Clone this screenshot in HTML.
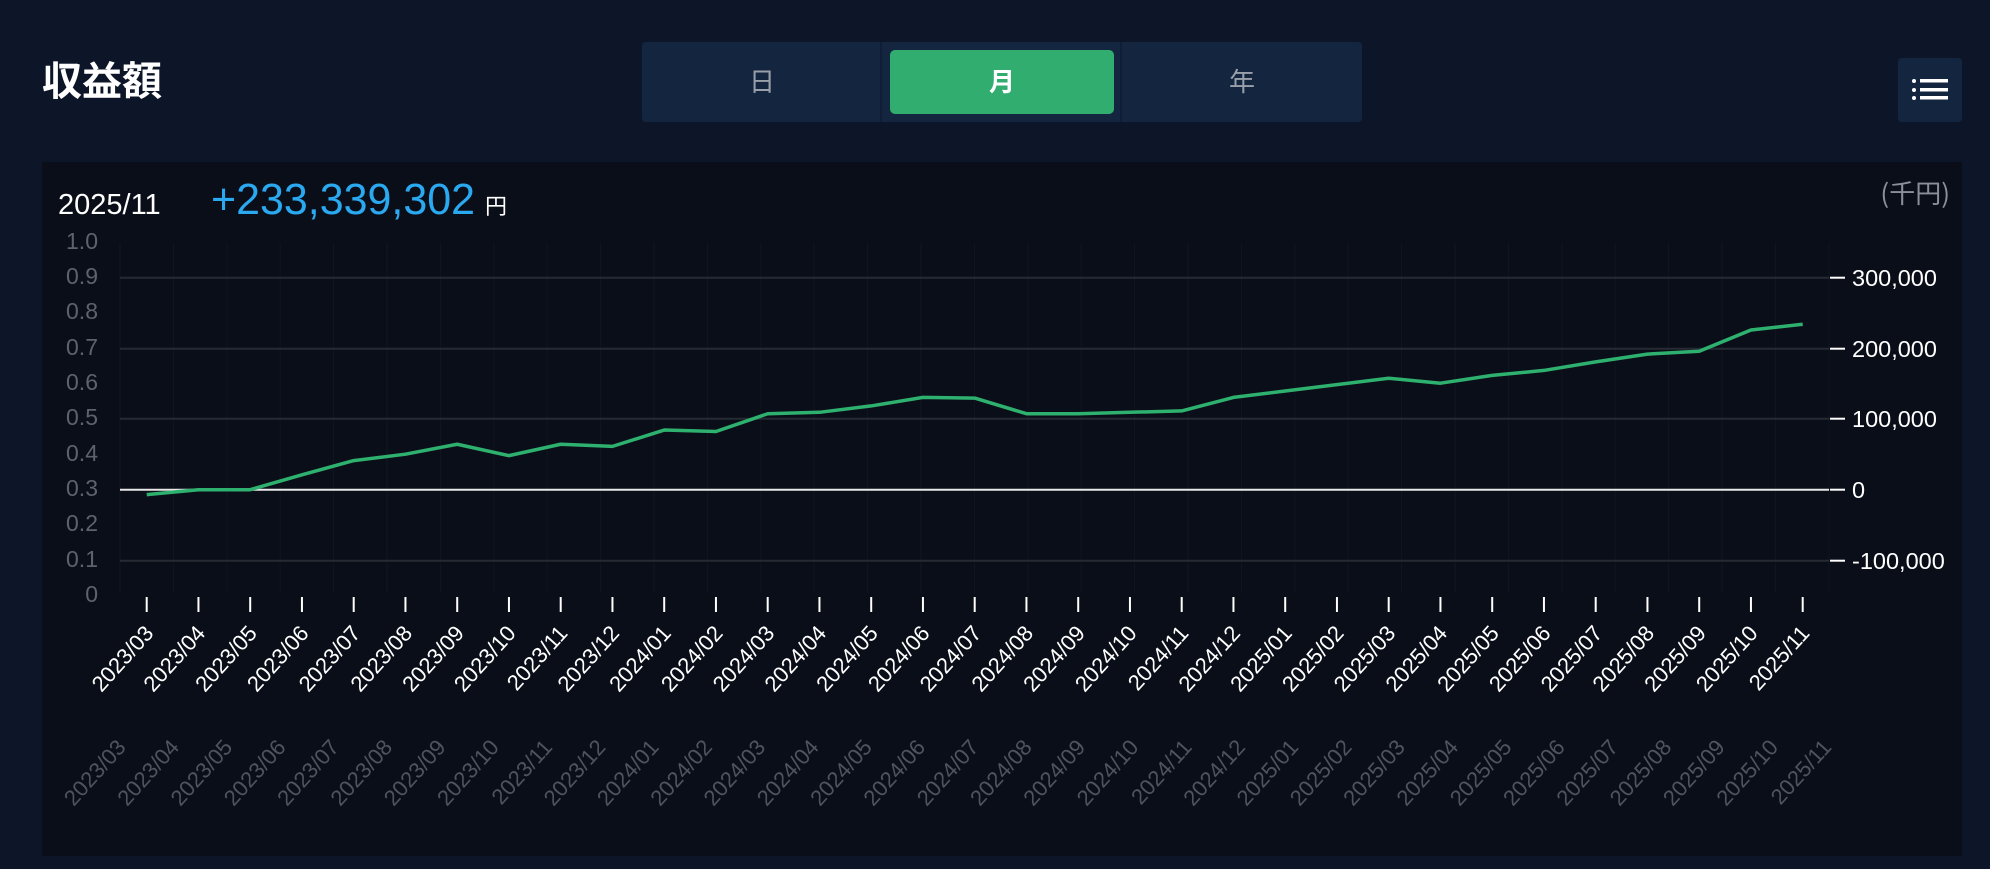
<!DOCTYPE html>
<html><head><meta charset="utf-8"><style>
html,body{margin:0;padding:0;width:1990px;height:869px;background:#0c1628;overflow:hidden}
svg{display:block}
</style></head><body>
<svg width="1990" height="869" xmlns="http://www.w3.org/2000/svg" font-family="Liberation Sans, 'Noto Sans CJK JP', sans-serif">
<rect width="1990" height="869" fill="#0c1628"/>
<text x="42" y="95" font-size="40" font-weight="bold" fill="#fff" font-family="'Noto Sans CJK JP', sans-serif">収益額</text>
<rect x="642" y="42" width="720" height="80" rx="4" fill="#14253f"/>
<line x1="881" y1="42" x2="881" y2="122" stroke="#0f1e36" stroke-width="2"/>
<line x1="1121" y1="42" x2="1121" y2="122" stroke="#0f1e36" stroke-width="2"/>
<rect x="890" y="50" width="224" height="64" rx="5" fill="#31ae6f"/>
<text x="762" y="91" font-size="26" fill="#9aa0aa" text-anchor="middle" font-family="'Noto Sans CJK JP', sans-serif">日</text>
<text x="1002" y="91" font-size="26" fill="#fff" font-weight="bold" text-anchor="middle" font-family="'Noto Sans CJK JP', sans-serif">月</text>
<text x="1242" y="91" font-size="26" fill="#9aa0aa" text-anchor="middle" font-family="'Noto Sans CJK JP', sans-serif">年</text>
<rect x="1898" y="58" width="64" height="64" rx="4" fill="#14253f"/>
<g fill="#fff"><circle cx="1914" cy="81" r="2"/><circle cx="1914" cy="90" r="2"/><circle cx="1914" cy="98" r="2"/>
<rect x="1920" y="79" width="28" height="3.5"/><rect x="1920" y="88" width="28" height="3.5"/><rect x="1920" y="96" width="28" height="3.5"/></g>
<rect x="42" y="162" width="1920" height="694" fill="#0a0e18"/>
<text x="58" y="214" font-size="29" fill="#fff">2025/11</text>
<text x="211" y="214" font-size="44" fill="#2aa8f0" textLength="264" lengthAdjust="spacingAndGlyphs">+233,339,302</text>
<text x="485" y="214" font-size="22" fill="#fff" font-family="'Noto Sans CJK JP', sans-serif">円</text>
<text x="1950" y="203" font-size="26" fill="#8a8f99" text-anchor="end" font-family="'Noto Sans CJK JP', sans-serif">(千円)</text>
<g id="vg" stroke="#11151f" stroke-width="1"></g>
<g stroke="#252a33" stroke-width="2">
<line x1="120" y1="277.7" x2="1829" y2="277.7"/><line x1="120" y1="348.7" x2="1829" y2="348.7"/>
<line x1="120" y1="418.7" x2="1829" y2="418.7"/><line x1="120" y1="560.7" x2="1829" y2="560.7"/></g>
<line x1="120" y1="489.7" x2="1829" y2="489.7" stroke="#e8e8e8" stroke-width="2"/>
<g font-size="23" fill="#5d626b" text-anchor="end">
<text x="98" y="249">1.0</text><text x="98" y="284">0.9</text><text x="98" y="319">0.8</text><text x="98" y="355">0.7</text><text x="98" y="390">0.6</text><text x="98" y="425">0.5</text><text x="98" y="461">0.4</text><text x="98" y="496">0.3</text><text x="98" y="531">0.2</text><text x="98" y="567">0.1</text><text x="98" y="602">0</text></g>
<g stroke="#fff" stroke-width="2"><line x1="1830" y1="277.7" x2="1845" y2="277.7"/><line x1="1830" y1="348.7" x2="1845" y2="348.7"/><line x1="1830" y1="418.7" x2="1845" y2="418.7"/><line x1="1830" y1="489.7" x2="1845" y2="489.7"/><line x1="1830" y1="560.7" x2="1845" y2="560.7"/></g>
<g font-size="23.5" fill="#fff"><text x="1852" y="286">300,000</text><text x="1852" y="357">200,000</text><text x="1852" y="427">100,000</text><text x="1852" y="498">0</text><text x="1852" y="569">-100,000</text></g>
<polyline id="ln" fill="none" stroke="#2eb06e" stroke-width="3.5" stroke-linejoin="round" points=""/>
<g id="tk" stroke="#fff" stroke-width="2"></g>
<g id="lb" font-size="22" fill="#fff" text-anchor="end"></g>
<g id="gl" font-size="22" fill="#4f545c" text-anchor="end"></g>
<script>
var v=[-7,0,0,21,41,50,64,48,64,61,84,82,107,109,118,130,129,107,107,109,111,130,139,148,157,150,161,168,180,191,195,225,233];
var ns='http://www.w3.org/2000/svg',pts=[],tk=document.getElementById('tk'),lb=document.getElementById('lb'),gl=document.getElementById('gl'),vg=document.getElementById('vg');
for(var k=0;k<=32;k++){var l=document.createElementNS(ns,'line');var xx=120+k*53.4;l.setAttribute('x1',xx);l.setAttribute('x2',xx);l.setAttribute('y1',243);l.setAttribute('y2',593);vg.appendChild(l);}
for(var i=0;i<33;i++){var x=146.7+i*51.75;pts.push(x+','+(489.7-v[i]*0.71));
var y=2023+Math.floor((i+2)/12),m=(i+2)%12+1;var s=y+'/'+(m<10?'0':'')+m;
var t=document.createElementNS(ns,'line');t.setAttribute('x1',x);t.setAttribute('x2',x);t.setAttribute('y1',597);t.setAttribute('y2',612);tk.appendChild(t);
var a=document.createElementNS(ns,'text');a.setAttribute('transform','translate('+(x+8)+',634) rotate(-48)');a.textContent=s;lb.appendChild(a);
var gx=127+i*53.3;var b=document.createElementNS(ns,'text');b.setAttribute('transform','translate('+gx+',748) rotate(-48)');b.textContent=s;gl.appendChild(b);}
document.getElementById('ln').setAttribute('points',pts.join(' '));
</script>
</svg>
</body></html>
